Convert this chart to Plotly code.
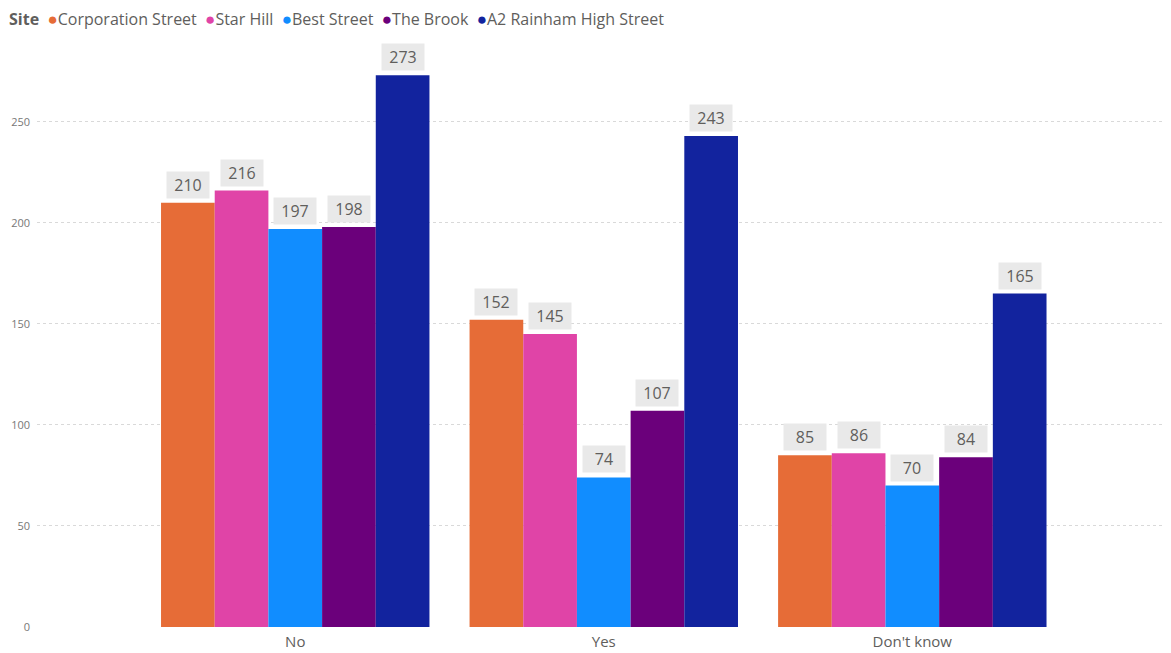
import plotly.graph_objects as go

categories = ["No", "Yes", "Don't know"]
sites = ["Corporation Street", "Star Hill", "Best Street", "The Brook", "A2 Rainham High Street"]
colors = ["#E66C37", "#E044A7", "#118DFF", "#6B007B", "#12239E"]
values = {
    "Corporation Street": [210, 152, 85],
    "Star Hill": [216, 145, 86],
    "Best Street": [197, 74, 70],
    "The Brook": [198, 107, 84],
    "A2 Rainham High Street": [273, 243, 165],
}

OFF = 8  # page body margin
W, H = 1171 - OFF, 653 - OFF
ml, mr, mt, mb = 37 - OFF, 6, 41 - OFF, 26
xr = [-0.837, 2.819]
bargap = 0.13
FONT = "Open Sans, Noto Sans, sans-serif"

fig = go.Figure()
for s, c in zip(sites, colors):
    fig.add_trace(go.Bar(x=categories, y=values[s], name=s, marker=dict(color=c, line=dict(width=0)),
                         showlegend=False, hoverinfo="x+y+name"))

plot_w = W - ml - mr
plot_h = H - mt - mb
px_per_cat = plot_w / (xr[1] - xr[0])
bar_px = px_per_cat * (1 - bargap) / len(sites)
n = len(sites)
for i, s in enumerate(sites):
    shift = (i - (n - 1) / 2) * bar_px
    for cat, v in zip(categories, values[s]):
        fig.add_annotation(x=cat, y=v, text=str(v), showarrow=False, xshift=shift,
                           yanchor="bottom", yshift=4, bgcolor="#E9E9E9",
                           font=dict(family=FONT, size=16, color="#605E5C"),
                           borderpad=2, width=38)

legend_parts = ["<b>Site</b>"]
for s, c in zip(sites, colors):
    legend_parts.append(f"<span style='color:{c};font-size:17px'>●</span>{s}")
legend_text = "&nbsp;&nbsp;".join(legend_parts)
fig.add_annotation(xref="paper", yref="paper", x=(0 - ml) / plot_w, y=1 + (mt + 2) / plot_h,
                   xanchor="left", yanchor="top", showarrow=False, text=legend_text, align="left",
                   borderpad=0, font=dict(family=FONT, size=16, color="#605E5C"))

fig.update_layout(
    width=W, height=H,
    margin=dict(l=ml, r=mr, t=mt, b=mb),
    barmode="group", bargap=bargap, bargroupgap=0,
    plot_bgcolor="white", paper_bgcolor="white",
    font=dict(family=FONT, color="#605E5C"),
    showlegend=False,
    xaxis=dict(range=xr, showgrid=False, showline=False, ticks="", automargin=False,
               tickfont=dict(size=15, color="#605E5C"), ticklabelstandoff=4),
    yaxis=dict(range=[0, 290], tickvals=[0, 50, 100, 150, 200, 250], showgrid=True, automargin=False,
               gridcolor="#D9D9D9", griddash="dot", gridwidth=1, zeroline=False,
               showline=False, tickfont=dict(size=11, color="#777777"), ticklabelstandoff=6),
)

fig.write_html("out.html")
